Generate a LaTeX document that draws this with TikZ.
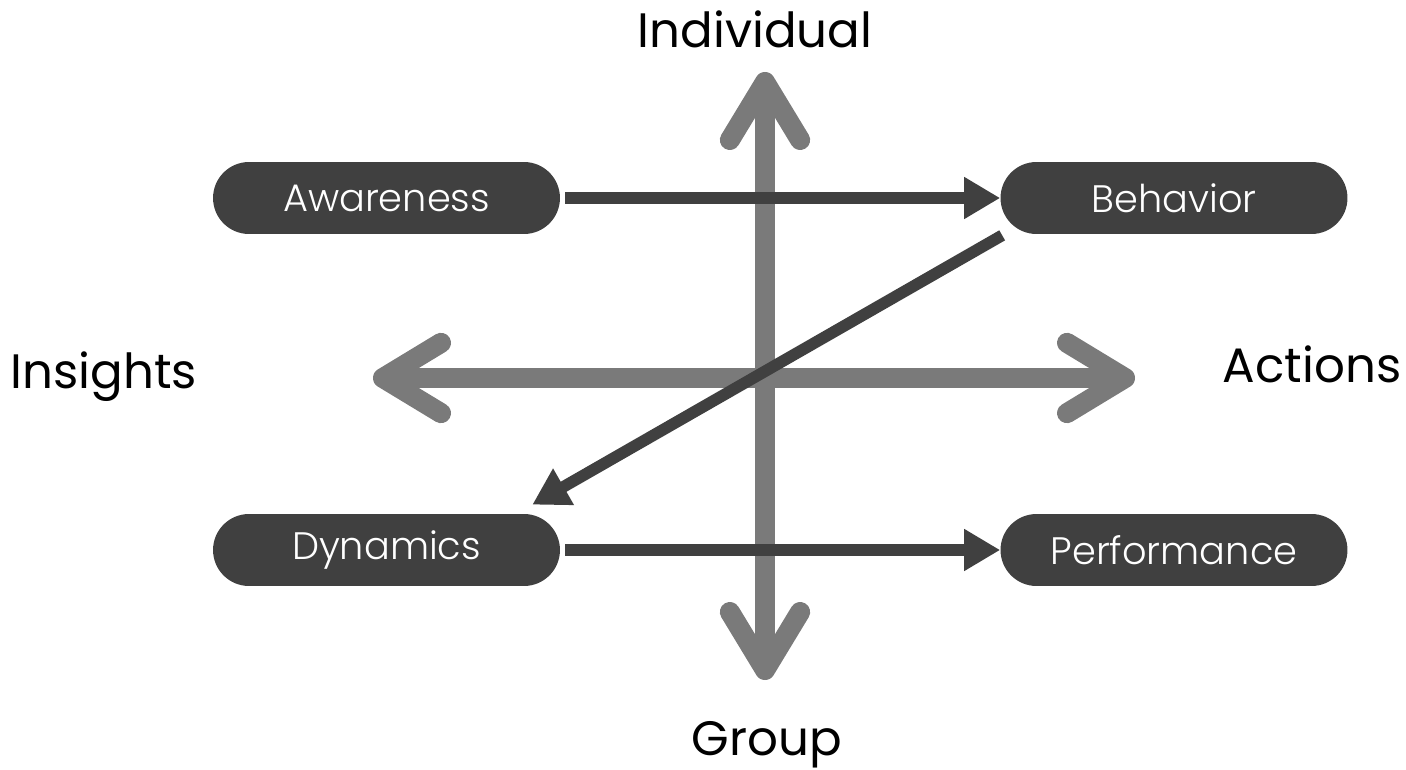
\documentclass[tikz,border=0pt]{standalone}
\usepackage{fontspec}
\setmainfont{Poppins}
\newfontfamily\pillfont{Poppins Light}
\usetikzlibrary{positioning, arrows.meta}

\definecolor{pillgrey}{HTML}{404040}
\definecolor{axisgrey}{HTML}{7A7A7A}

\begin{document}
\begin{tikzpicture}[
    x=0.02cm, y=-0.02cm,
    pill/.style={rounded corners=0.72cm, fill=pillgrey, text=white, align=center,
                 minimum width=6.94cm, minimum height=1.44cm, inner sep=0pt,
                 font=\pillfont\fontsize{21.8pt}{24pt}\selectfont},
    axislabel/.style={anchor=base, inner sep=0pt, font=\fontsize{27.5pt}{30pt}\selectfont},
    axis/.style={draw=axisgrey, line width=11.4pt,
                 {Straight Barb[length=33pt, width=40pt, round]}-{Straight Barb[length=33pt, width=40pt, round]}},
    link/.style={draw=pillgrey, line width=6.6pt, -{Triangle[length=20.5pt, width=22.5pt]}}
]
\useasboundingbox (0,0) rectangle (1406,770);
% axes
\coordinate (top)   at (765,72);
\coordinate (bot)   at (765,680);
\coordinate (left)  at (373,378);
\coordinate (right) at (1135,378);
\draw[axis] (bot) -- (top);
\draw[axis] (left) -- (right);
\node[axislabel] (ind) at (755,48)  {Individual};
\node[axislabel] (grp) at (767,755) {Group};
\node[axislabel] (ins) at (104,388) {Insights};
\node[axislabel] (act) at (1312,382) {Actions};
% stages
\node[pill] (aw) at (386.5,198) {Awareness};
\node[pill] (be) at (1174,198)  {Behavior};
\node[pill] (dy) at (386.5,550) {Dynamics};
\node[pill] (pe) at (1174,550)  {Performance};
\draw[link, shorten <=2.8pt] (aw) -- (be);
\draw[link, shorten <=2.8pt] (dy) -- (pe);
\draw[link] ([shift={(2,1)}]be.south west) -- ([shift={(-28,-9)}]dy.north east);
\end{tikzpicture}
\end{document}
